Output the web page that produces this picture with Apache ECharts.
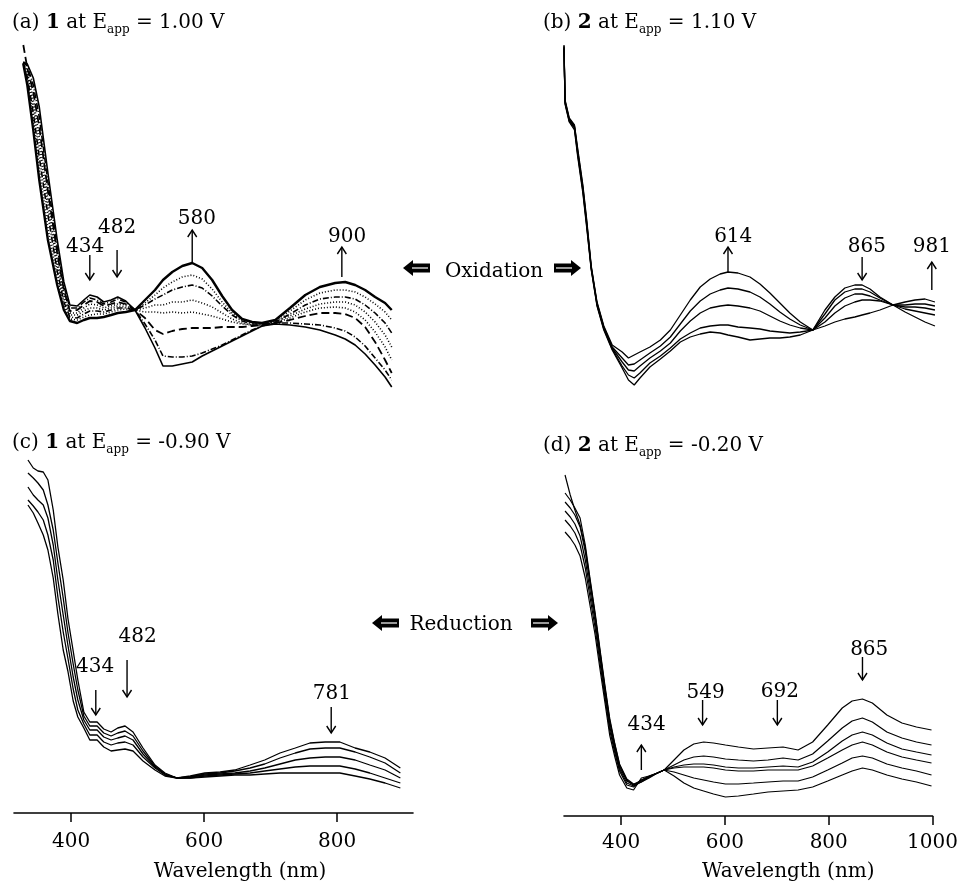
<!DOCTYPE html>
<html>
  <head>
    <meta charset="utf-8" />
    <title>Spectroelectrochemistry of 1 and 2</title>
    <script src="https://cdn.jsdelivr.net/npm/echarts@6/dist/echarts.min.js"></script>
    <style>
      html, body { margin: 0; padding: 0; background: #fff; }
      #main { width: 961px; height: 883px; }
    </style>
  </head>
  <body>
    <div id="main"></div>
    <script type="text/javascript">
      var FONT = "DejaVu Serif";

      // ---- (a) 1 at Eapp = 1.00 V ----
      var wlA = [328, 334, 343, 352, 365, 379, 389, 398, 409, 419, 428, 439, 449, 460, 470, 482, 496,
        511, 526, 538, 552, 567, 582, 597, 612, 627, 642, 657, 672, 687,
        707, 729, 752, 774, 797, 812, 827, 842, 857, 872, 882];
      var absA = [
        [3.38, 3.36, 3.22, 2.93, 2.27, 1.60, 1.18, 0.95, 0.94, 1.00, 1.05, 1.03, 0.98, 1.00, 1.03, 0.99, 0.90,
          0.72, 0.52, 0.34, 0.34, 0.36, 0.38, 0.44, 0.49, 0.54, 0.59, 0.64, 0.69, 0.74,
          0.76, 0.75, 0.73, 0.70, 0.65, 0.61, 0.55, 0.46, 0.35, 0.23, 0.13],
        [3.38, 3.34, 3.15, 2.83, 2.18, 1.53, 1.14, 0.92, 0.92, 0.98, 1.02, 1.00, 0.96, 0.98, 1.01, 0.98, 0.90,
          0.76, 0.60, 0.44, 0.43, 0.43, 0.44, 0.47, 0.51, 0.55, 0.60, 0.65, 0.70, 0.74,
          0.77, 0.77, 0.76, 0.75, 0.72, 0.69, 0.63, 0.54, 0.42, 0.30, 0.20],
        [3.55, 3.32, 3.08, 2.73, 2.09, 1.47, 1.10, 0.89, 0.90, 0.95, 0.99, 0.98, 0.94, 0.96, 0.98, 0.96, 0.90,
          0.82, 0.70, 0.66, 0.69, 0.71, 0.72, 0.72, 0.72, 0.73, 0.73, 0.73, 0.74, 0.75,
          0.77, 0.80, 0.84, 0.87, 0.87, 0.86, 0.82, 0.73, 0.58, 0.40, 0.27],
        [3.37, 3.29, 3.01, 2.63, 2.01, 1.41, 1.06, 0.87, 0.87, 0.92, 0.96, 0.95, 0.92, 0.94, 0.96, 0.95, 0.90,
          0.88, 0.88, 0.87, 0.88, 0.87, 0.88, 0.86, 0.84, 0.81, 0.78, 0.76, 0.75, 0.75,
          0.77, 0.82, 0.88, 0.92, 0.93, 0.92, 0.88, 0.80, 0.68, 0.53, 0.40],
        [3.37, 3.26, 2.94, 2.53, 1.93, 1.35, 1.02, 0.85, 0.85, 0.89, 0.92, 0.92, 0.90, 0.92, 0.94, 0.93, 0.90,
          0.92, 0.95, 0.95, 0.98, 0.98, 1.00, 0.97, 0.93, 0.87, 0.81, 0.77, 0.75, 0.75,
          0.78, 0.84, 0.91, 0.96, 0.98, 0.98, 0.95, 0.88, 0.78, 0.65, 0.53],
        [3.37, 3.23, 2.87, 2.43, 1.85, 1.29, 0.98, 0.83, 0.82, 0.86, 0.89, 0.89, 0.88, 0.90, 0.92, 0.92, 0.90,
          0.95, 1.01, 1.05, 1.10, 1.13, 1.15, 1.12, 1.04, 0.94, 0.85, 0.79, 0.76, 0.76,
          0.78, 0.86, 0.95, 1.01, 1.03, 1.03, 1.01, 0.95, 0.87, 0.77, 0.67],
        [3.36, 3.19, 2.79, 2.32, 1.72, 1.22, 0.94, 0.81, 0.80, 0.83, 0.85, 0.86, 0.86, 0.88, 0.90, 0.91, 0.90,
          0.97, 1.05, 1.12, 1.18, 1.23, 1.25, 1.21, 1.11, 0.98, 0.87, 0.80, 0.77, 0.76,
          0.79, 0.89, 1.00, 1.07, 1.10, 1.10, 1.08, 1.03, 0.96, 0.88, 0.80],
        [3.36, 3.15, 2.70, 2.20, 1.60, 1.15, 0.90, 0.79, 0.77, 0.80, 0.82, 0.82, 0.83, 0.85, 0.87, 0.88, 0.90,
          1.00, 1.10, 1.20, 1.28, 1.34, 1.37, 1.32, 1.20, 1.04, 0.90, 0.81, 0.78, 0.77,
          0.80, 0.92, 1.05, 1.13, 1.17, 1.18, 1.15, 1.10, 1.03, 0.97, 0.90]
      ];
      var arrowsA = [[428, 1.45, 1.20, 421, 1.53], [469, 1.50, 1.23, 469, 1.72],
        [582, 1.38, 1.70, 589, 1.81], [807, 1.23, 1.53, 815, 1.63]];
      var arrowLabelsA = ["434", "482", "580", "900"];

      // ---- (b) 2 at Eapp = 1.10 V ----
      var wlB = [290, 292, 300, 310, 316, 326, 333, 342, 353, 366, 382,
        401, 413, 424, 435, 454, 474, 493, 512, 531, 550, 569, 588, 603, 622, 645, 664, 683, 702, 721, 741,
        765, 788, 807, 826, 845, 859, 874, 893, 918, 941, 960, 979, 998];
      var absB = [
        [3.51, 2.96, 2.78, 2.70, 2.44, 2.07, 1.74, 1.30, 0.94, 0.70, 0.50,
          0.32, 0.20, 0.15, 0.22, 0.33, 0.41, 0.49, 0.58, 0.63, 0.66, 0.68, 0.67, 0.65, 0.63, 0.60, 0.61, 0.62, 0.62, 0.63, 0.65,
          0.70, 0.90, 1.03, 1.12, 1.15, 1.15, 1.11, 1.03, 0.95, 0.88, 0.83, 0.78, 0.74],
        [3.52, 2.97, 2.79, 2.72, 2.46, 2.09, 1.76, 1.31, 0.95, 0.71, 0.51,
          0.34, 0.25, 0.22, 0.27, 0.37, 0.44, 0.52, 0.61, 0.67, 0.72, 0.74, 0.75, 0.75, 0.73, 0.72, 0.71, 0.69, 0.68, 0.67, 0.68,
          0.70, 0.86, 1.00, 1.08, 1.11, 1.11, 1.08, 1.02, 0.95, 0.91, 0.89, 0.87, 0.85],
        [3.53, 2.98, 2.80, 2.73, 2.48, 2.11, 1.78, 1.32, 0.96, 0.72, 0.52,
          0.38, 0.30, 0.29, 0.34, 0.42, 0.49, 0.57, 0.69, 0.79, 0.87, 0.92, 0.94, 0.95, 0.94, 0.92, 0.89, 0.84, 0.79, 0.75, 0.72,
          0.70, 0.82, 0.94, 1.02, 1.06, 1.06, 1.04, 1.00, 0.95, 0.93, 0.93, 0.92, 0.90],
        [3.54, 2.99, 2.81, 2.74, 2.50, 2.13, 1.80, 1.33, 0.97, 0.73, 0.53,
          0.42, 0.35, 0.36, 0.40, 0.47, 0.54, 0.63, 0.76, 0.89, 0.99, 1.06, 1.10, 1.12, 1.11, 1.08, 1.03, 0.96, 0.88, 0.81, 0.75,
          0.70, 0.78, 0.87, 0.94, 0.98, 1.00, 1.00, 0.99, 0.95, 0.95, 0.96, 0.96, 0.94],
        [3.55, 3.00, 2.82, 2.75, 2.52, 2.15, 1.82, 1.34, 0.98, 0.74, 0.55,
          0.48, 0.42, 0.45, 0.48, 0.53, 0.60, 0.70, 0.85, 1.00, 1.13, 1.21, 1.26, 1.28, 1.27, 1.23, 1.16, 1.07, 0.97, 0.87, 0.78,
          0.70, 0.74, 0.78, 0.81, 0.83, 0.85, 0.87, 0.90, 0.95, 0.98, 1.00, 1.01, 0.98]
      ];
      var arrowsB = [[603, 1.27, 1.53, 613, 1.63], [859, 1.43, 1.20, 868, 1.53], [992, 1.10, 1.38, 992, 1.53]];
      var arrowLabelsB = ["614", "865", "981"];

      // ---- (c) 1 at Eapp = -0.90 V ----
      var wlC = [335, 343, 350, 358, 365, 373, 380, 388, 395, 403, 410, 419, 428,
        439, 449, 460, 470, 481, 493, 508, 526, 541, 559,
        579, 601, 624, 646, 669, 691, 714, 737, 759, 782, 804, 827, 849, 872, 895];
      var absC = [
        [3.53, 3.45, 3.42, 3.41, 3.33, 3.03, 2.66, 2.33, 1.95, 1.62, 1.33, 1.01, 0.91,
          0.91, 0.84, 0.81, 0.85, 0.87, 0.81, 0.65, 0.48, 0.40, 0.35,
          0.37, 0.40, 0.41, 0.43, 0.48, 0.53, 0.60, 0.65, 0.70, 0.71, 0.71, 0.65, 0.61, 0.55, 0.45],
        [3.40, 3.35, 3.30, 3.23, 3.08, 2.83, 2.50, 2.15, 1.81, 1.49, 1.23, 0.97, 0.87,
          0.87, 0.80, 0.77, 0.80, 0.82, 0.77, 0.62, 0.47, 0.39, 0.35,
          0.36, 0.39, 0.40, 0.42, 0.45, 0.49, 0.55, 0.60, 0.64, 0.65, 0.65, 0.61, 0.56, 0.50, 0.40],
        [3.26, 3.18, 3.13, 3.08, 2.95, 2.68, 2.33, 1.98, 1.68, 1.36, 1.13, 0.93, 0.83,
          0.83, 0.76, 0.73, 0.75, 0.77, 0.73, 0.59, 0.46, 0.39, 0.35,
          0.36, 0.38, 0.39, 0.40, 0.42, 0.45, 0.49, 0.53, 0.55, 0.56, 0.56, 0.53, 0.48, 0.43, 0.35],
        [3.13, 3.07, 3.01, 2.93, 2.78, 2.53, 2.16, 1.81, 1.55, 1.24, 1.03, 0.89, 0.78,
          0.78, 0.71, 0.68, 0.70, 0.71, 0.68, 0.56, 0.45, 0.38, 0.35,
          0.35, 0.37, 0.38, 0.39, 0.40, 0.42, 0.44, 0.46, 0.47, 0.47, 0.47, 0.44, 0.40, 0.35, 0.30],
        [3.08, 3.00, 2.90, 2.78, 2.63, 2.35, 1.99, 1.63, 1.42, 1.12, 0.96, 0.85, 0.73,
          0.73, 0.66, 0.62, 0.63, 0.64, 0.62, 0.52, 0.43, 0.37, 0.35,
          0.35, 0.36, 0.37, 0.38, 0.38, 0.39, 0.40, 0.40, 0.40, 0.40, 0.40, 0.37, 0.34, 0.30, 0.25]
      ];
      var arrowsC = [[437, 1.23, 0.98, 436, 1.46], [484, 1.53, 1.16, 500, 1.76], [791, 1.06, 0.80, 792, 1.19]];
      var arrowLabelsC = ["434", "482", "781"];

      // ---- (d) 2 at Eapp = -0.20 V ----
      var wlD = [292, 302, 311, 321, 331, 340, 350, 359, 369, 378, 388, 397, 411, 424,
        439, 454, 470, 483, 502, 521, 540, 559, 578, 601, 626, 655, 683, 712, 741, 769, 798,
        826, 845, 865, 884, 912, 941, 969, 998];
      var absD = [
        [3.41, 3.21, 3.06, 2.91, 2.68, 2.36, 2.01, 1.66, 1.28, 0.96, 0.71, 0.51, 0.36, 0.31,
          0.36, 0.40, 0.43, 0.46, 0.56, 0.66, 0.72, 0.74, 0.73, 0.71, 0.69, 0.67, 0.68, 0.69, 0.66, 0.74, 0.91,
          1.08, 1.15, 1.17, 1.13, 1.01, 0.93, 0.89, 0.86],
        [3.23, 3.16, 3.08, 2.98, 2.71, 2.38, 2.03, 1.68, 1.30, 0.98, 0.72, 0.52, 0.37, 0.32,
          0.35, 0.39, 0.43, 0.46, 0.51, 0.56, 0.59, 0.60, 0.59, 0.57, 0.56, 0.55, 0.56, 0.58, 0.56, 0.62, 0.75,
          0.88, 0.95, 0.98, 0.94, 0.84, 0.78, 0.74, 0.71],
        [3.14, 3.08, 3.01, 2.89, 2.64, 2.33, 1.99, 1.64, 1.26, 0.94, 0.69, 0.49, 0.35, 0.31,
          0.34, 0.39, 0.43, 0.46, 0.49, 0.51, 0.52, 0.52, 0.51, 0.49, 0.48, 0.48, 0.49, 0.50, 0.49, 0.54, 0.64,
          0.75, 0.81, 0.84, 0.81, 0.73, 0.67, 0.64, 0.61],
        [3.05, 2.99, 2.92, 2.80, 2.56, 2.26, 1.94, 1.59, 1.22, 0.90, 0.66, 0.47, 0.33, 0.30,
          0.34, 0.38, 0.43, 0.46, 0.48, 0.49, 0.49, 0.49, 0.48, 0.46, 0.45, 0.45, 0.46, 0.46, 0.46, 0.50, 0.58,
          0.66, 0.71, 0.74, 0.71, 0.64, 0.59, 0.56, 0.53],
        [2.96, 2.90, 2.83, 2.71, 2.48, 2.19, 1.88, 1.54, 1.18, 0.86, 0.63, 0.45, 0.31, 0.29,
          0.36, 0.39, 0.43, 0.46, 0.44, 0.41, 0.38, 0.36, 0.34, 0.32, 0.32, 0.33, 0.34, 0.35, 0.35, 0.39, 0.46,
          0.53, 0.58, 0.60, 0.58, 0.52, 0.48, 0.45, 0.41],
        [2.84, 2.78, 2.71, 2.60, 2.38, 2.11, 1.81, 1.48, 1.13, 0.81, 0.59, 0.41, 0.28, 0.26,
          0.38, 0.40, 0.43, 0.46, 0.40, 0.33, 0.28, 0.25, 0.22, 0.19, 0.20, 0.22, 0.24, 0.25, 0.26, 0.29, 0.35,
          0.41, 0.45, 0.48, 0.46, 0.41, 0.37, 0.34, 0.30]
      ];
      var arrowsD = [[439, 0.46, 0.71, 449, 0.91], [557, 1.16, 0.91, 563, 1.23],
        [701, 1.16, 0.91, 706, 1.24], [865, 1.59, 1.36, 878, 1.66]];
      var arrowLabelsD = ["434", "549", "692", "865"];

      var ticksLeft = [400, 600, 800];
      var ticksRight = [400, 600, 800, 1000];

      // line looks for panel (a): solid, dash-dot, long dash, dotted ... thick solid
      var dashDot = [6, 2, 1, 2];
      var stylesA = [
        { type: "solid", width: 1.6 },
        { type: dashDot, width: 1.6 },
        { type: [8, 4], width: 1.8 },
        { type: [1, 2], width: 1.6 },
        { type: [1, 2], width: 1.6 },
        { type: dashDot, width: 1.6 },
        { type: [1, 2], width: 1.6 },
        { type: "solid", width: 2.4 }
      ];

      var myChart = echarts.init(document.getElementById("main"));

      function curveSeries(idx, wl, curves, styles, width) {
        return curves.map(function (c, k) {
          var st = styles ? styles[k] : { type: "solid", width: width };
          return {
            type: "line",
            xAxisIndex: idx,
            yAxisIndex: idx,
            data: wl.map(function (w, i) { return [w, c[i]]; }),
            showSymbol: false,
            symbol: "none",
            clip: false,
            silent: true,
            lineStyle: { color: "#000", width: st.width, type: st.type }
          };
        });
      }

      function arrowSeries(idx, arrows, labels) {
        return {
          type: "custom",
          xAxisIndex: idx,
          yAxisIndex: idx,
          clip: false,
          silent: true,
          data: arrows,
          encode: { x: 0, y: [1, 2] },
          renderItem: function (params, api) {
            var tail = api.coord([api.value(0), api.value(1)]);
            var head = api.coord([api.value(0), api.value(2)]);
            var lab = api.coord([api.value(3), api.value(4)]);
            var d = head[1] < tail[1] ? 1 : -1;
            return {
              type: "group",
              children: [
                { type: "line", shape: { x1: tail[0], y1: tail[1], x2: head[0], y2: head[1] },
                  style: { stroke: "#000", lineWidth: 1.4 } },
                { type: "polyline",
                  shape: { points: [[head[0] - 4.5, head[1] + d * 7], [head[0], head[1]], [head[0] + 4.5, head[1] + d * 7]] },
                  style: { stroke: "#000", fill: null, lineWidth: 1.4 } },
                { type: "text", x: lab[0], y: lab[1],
                  style: { text: labels[params.dataIndex], fontFamily: FONT, fontSize: 20, fill: "#000",
                    align: "center", verticalAlign: "middle" } }
              ]
            };
          }
        };
      }

      function xAxisFor(idx, min, max, ticks, labelMargin, nameGap, namePad) {
        var shown = ticks != null;
        return {
          gridIndex: idx,
          type: "value",
          min: min,
          max: max,
          show: shown,
          name: shown ? "Wavelength (nm)" : "",
          nameLocation: "middle",
          nameGap: nameGap,
          nameTextStyle: { color: "#000", fontFamily: FONT, fontSize: 20, padding: [0, 0, 0, namePad || 0] },
          axisLine: { show: shown, lineStyle: { color: "#000", width: 1.6 } },
          axisTick: { show: shown, inside: false, length: 9, customValues: ticks || [],
            lineStyle: { color: "#000", width: 1.5 } },
          axisLabel: { show: shown, customValues: ticks || [], color: "#000", fontFamily: FONT,
            fontSize: 20, margin: labelMargin, formatter: function (v) { return String(v); } },
          splitLine: { show: false }
        };
      }

      function yAxisFor(idx) {
        return { gridIndex: idx, type: "value", min: 0, max: 3.6, show: false, splitLine: { show: false } };
      }

      function titleText(x, y, letter, num, volts) {
        return {
          type: "text",
          x: x,
          y: y,
          style: {
            text: "(" + letter + ") {b|" + num + "} at E{s|app} = " + volts + " V",
            fontFamily: FONT,
            fontSize: 20,
            lineHeight: 26,
            fill: "#000",
            verticalAlign: "middle",
            rich: {
              b: { fontFamily: FONT, fontSize: 20, fontWeight: "bold", lineHeight: 26 },
              s: { fontFamily: FONT, fontSize: 12, lineHeight: 12, verticalAlign: "bottom" }
            }
          }
        };
      }

      function fatArrow(x, y, dir) {
        // x = tip position, dir = -1 points left, 1 points right
        var h = 10, L = 27, sh = 4.5;
        var p = function (dx, dy) { return [x - dir * dx, y + dy]; };
        return [
          { type: "polygon",
            shape: { points: [p(0, 0), p(h, -8), p(h, -sh), p(L, -sh), p(L, sh), p(h, sh), p(h, 8)] },
            style: { fill: "#000" } },
          { type: "line", shape: { x1: p(h - 1, 0)[0], y1: y, x2: p(L - 2, 0)[0], y2: y },
            style: { stroke: "#fff", lineWidth: 1.2 } }
        ];
      }

      function sideText(x, y, txt) {
        return { type: "text", x: x, y: y,
          style: { text: txt, fontFamily: FONT, fontSize: 20, fill: "#000", align: "center", verticalAlign: "middle" } };
      }

      var graphics = [
        titleText(12, 23, "a", "1", "1.00"),
        titleText(543, 23, "b", "2", "1.10"),
        titleText(12, 443, "c", "1", "-0.90"),
        titleText(543, 446, "d", "2", "-0.20"),
        sideText(494, 272, "Oxidation"),
        sideText(461, 625, "Reduction")
      ].concat(fatArrow(403, 268, -1), fatArrow(581, 268, 1),
        fatArrow(372, 623, -1), fatArrow(558, 623, 1));

      var option = {
        backgroundColor: "#fff",
        animation: false,
        grid: [
          { left: 14, top: 40, width: 399, height: 360 },
          { left: 564, top: 40, width: 372, height: 360 },
          { left: 14, top: 453, width: 399, height: 360 },
          { left: 564, top: 456, width: 372, height: 360 }
        ],
        xAxis: [
          xAxisFor(0, 314, 914, null),
          xAxisFor(1, 290, 1000, null),
          xAxisFor(2, 314, 914, ticksLeft, 19, 49, 53),
          xAxisFor(3, 290, 1000, ticksRight, 17, 46, 80)
        ],
        yAxis: [yAxisFor(0), yAxisFor(1), yAxisFor(2), yAxisFor(3)],
        graphic: graphics,
        series: [].concat(
          curveSeries(0, wlA, absA, stylesA),
          curveSeries(1, wlB, absB, null, 1.3),
          curveSeries(2, wlC, absC, null, 1.3),
          curveSeries(3, wlD, absD, null, 1.2),
          [arrowSeries(0, arrowsA, arrowLabelsA), arrowSeries(1, arrowsB, arrowLabelsB),
            arrowSeries(2, arrowsC, arrowLabelsC), arrowSeries(3, arrowsD, arrowLabelsD)]
        )
      };
      myChart.setOption(option);
    </script>
  </body>
</html>
